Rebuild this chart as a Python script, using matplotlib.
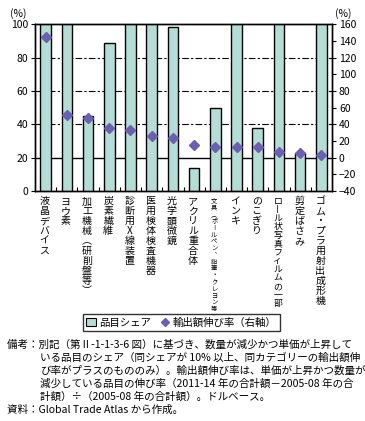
import matplotlib
matplotlib.use("Agg")
import matplotlib.pyplot as plt
from matplotlib.lines import Line2D
from matplotlib.patches import Patch

plt.rcParams['font.family'] = ['Noto Sans CJK JP', 'DejaVu Sans']

categories = ["液晶デバイス", "ヨウ素", "加工機械（研削盤等）", "炭素繊維", "診断用X線装置",
              "医用検体検査機器", "光学顕微鏡", "アクリル重合体",
              "文具（ボールペン、鉛筆・クレヨン等）", "インキ", "のこぎり",
              "ロール状写真フィルムの一部", "剪定ばさみ", "ゴム・プラ用射出成形機"]
share = [100, 100, 45, 88.5, 100, 100, 98.5, 13.5, 49.5, 100, 37.7, 100, 22.5, 100]
growth = [145, 51, 48, 36, 33, 26, 24, 15, 13, 13, 12.4, 7.2, 6, 3.6]
left_ticks = [0, 20, 40, 60, 80, 100]
right_ticks = [-40, -20, 0, 20, 40, 60, 80, 100, 120, 140, 160]
legend_labels = ["品目シェア", "輸出額伸び率（右軸）"]
notes = ["備考：別記（第Ⅱ-1-1-3-6 図）に基づき、数量が減少かつ単価が上昇して",
         "いる品目のシェア（同シェアが 10% 以上、同カテゴリーの輸出額伸",
         "び率がプラスのもののみ）。輸出額伸び率は、単価が上昇かつ数量が",
         "減少している品目の伸び率（2011-14 年の合計額－2005-08 年の合",
         "計額）÷（2005-08 年の合計額）。ドルベース。",
         "資料：Global Trade Atlas から作成。"]

BAR = "#b3ddd5"
MK = "#6a5fb0"

fig = plt.figure(figsize=(3.65, 4.21), dpi=100)
ax = fig.add_axes([35/365, 1-190.8/421, (332-35)/365, (190.8-24.3)/421])
ax2 = ax.twinx()

x = list(range(len(categories)))
ax.bar(x, share, width=0.5, color=BAR, edgecolor="black", linewidth=1.0, zorder=3)
ax.set_ylim(0, 100)
ax.set_xlim(-0.5, len(categories) - 0.5)
for v in [40, 60, 80]:
    ax.axhline(v, color="black", lw=0.8, ls=(0, (6, 2, 2, 2)), zorder=1)
ax.axhline(20, color="black", lw=1.0, zorder=1)

ax.set_yticks(left_ticks)
ax.tick_params(axis='y', direction='out', length=3, width=0.8, labelsize=7.5, pad=2)
ax.set_xticks([i + 0.5 for i in x[:-1]])
ax.set_xticklabels([])
ax.tick_params(axis='x', direction='in', length=3, width=0.8)

ax2.set_ylim(-40, 160)
ax2.set_yticks(right_ticks)
ax2.tick_params(axis='y', direction='out', length=3, width=0.8, labelsize=7.5, pad=2)
ax2.plot(x, growth, ls="none", marker="D", markersize=5, color=MK, zorder=5)
for s in list(ax.spines.values()) + list(ax2.spines.values()):
    s.set_linewidth(1.0)

ax.text(-0.03, 1.03, "(%)", transform=ax.transAxes, ha="right", va="bottom", fontsize=7.5)
ax2.text(1.01, 1.03, "(%)", transform=ax2.transAxes, ha="left", va="bottom", fontsize=7.5)

# vertical labels (one text per label, one character per line)
vmap = {"ー": "丨", "（": "︵", "）": "︶", "、": "︑"}
def vert(s):
    return "\n".join(vmap.get(c, c) for c in s)

trans = ax.get_xaxis_transform()
for i, lab in enumerate(categories):
    n = len(lab)
    if n >= 17:
        size, ls = 4.5, 0.8
    elif n >= 13:
        size, ls = 6.4, 0.94
    else:
        size, ls = 7.2, 0.99
    ax.annotate(vert(lab), xy=(i - 0.05, 0), xycoords=trans,
                xytext=(0, -4), textcoords="offset points",
                ha="center", va="top", fontsize=size, linespacing=ls,
                multialignment="center", annotation_clip=False)

handles = [Patch(facecolor=BAR, edgecolor="black", linewidth=0.8),
           Line2D([], [], ls="none", marker="D", markersize=4, color=MK)]
leg = fig.legend(handles, legend_labels, loc="center", bbox_to_anchor=(0.497, 1-322.5/421),
                 ncol=2, fontsize=7.5, frameon=True, fancybox=False, handlelength=0.9,
                 handletextpad=0.3, columnspacing=0.9, borderpad=0.3, handleheight=0.9)
leg.get_frame().set_edgecolor("black")
leg.get_frame().set_linewidth(1.0)

ys = [345, 358, 371, 384, 397, 410]
for k, (t, yy) in enumerate(zip(notes, ys)):
    xx = 7 if k in (0, 5) else 40
    fig.text(xx/365, 1-yy/421, t, ha="left", va="center", fontsize=7.6)

fig.savefig("out.png", dpi=100)
